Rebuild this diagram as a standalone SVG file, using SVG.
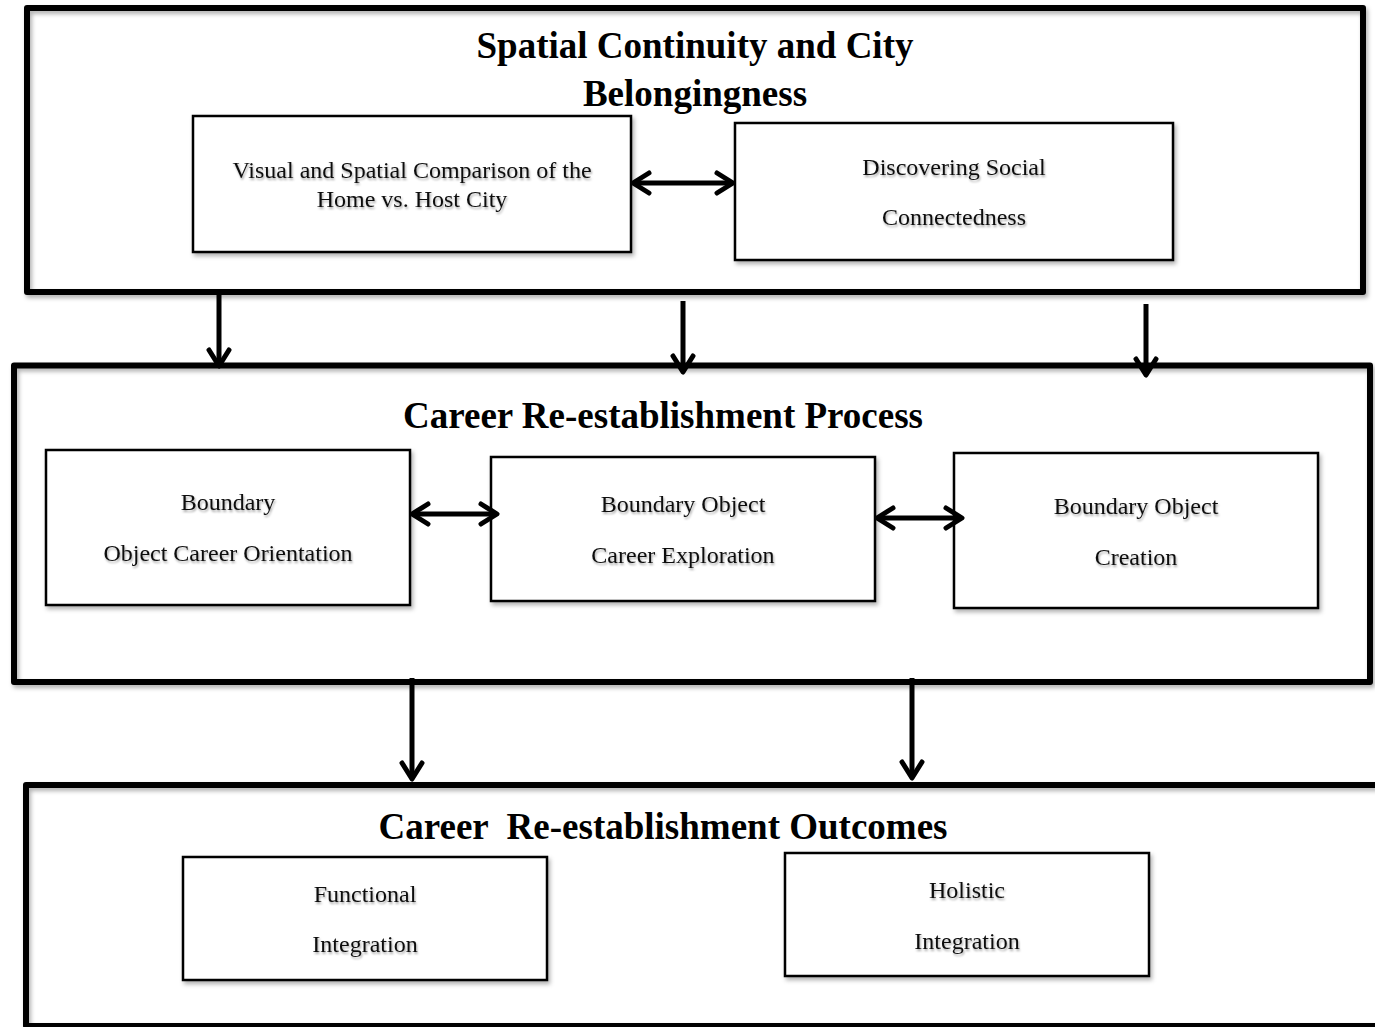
<svg xmlns="http://www.w3.org/2000/svg" width="1375" height="1027" viewBox="0 0 1375 1027">
<style>
.outer{fill:none;stroke:#000;stroke-width:6;stroke-linejoin:round}
.inner{fill:#fff;stroke:#000;stroke-width:2.5}
.title{font-family:"Liberation Serif",serif;font-weight:bold;font-size:37px;text-anchor:middle;fill:#000}
.lbl{font-family:"Liberation Serif",serif;font-size:24px;text-anchor:middle;fill:#111}
.conn{fill:none;stroke:#000;stroke-width:5}
</style>
<defs>
<filter id="sh" x="-5%" y="-5%" width="115%" height="120%">
<feDropShadow dx="2" dy="3" stdDeviation="2" flood-color="#000" flood-opacity="0.3"/>
</filter>
<filter id="tsh" x="-5%" y="-20%" width="110%" height="150%">
<feDropShadow dx="1" dy="2" stdDeviation="1.2" flood-color="#000" flood-opacity="0.35"/>
</filter>
<marker id="ah" viewBox="0 0 22 26" refX="19" refY="13" markerWidth="22" markerHeight="26" markerUnits="userSpaceOnUse" orient="auto-start-reverse">
<path d="M3,3 L19,13 L3,23" fill="none" stroke="#000" stroke-width="5" stroke-linecap="round" stroke-linejoin="round"/>
</marker>
</defs>
<rect width="1375" height="1027" fill="#fff"/>

<g id="group-spatial">
<rect class="outer" x="27" y="8" width="1336" height="284" filter="url(#sh)"/>
<text class="title" x="695" y="58">Spatial Continuity and City</text>
<text class="title" x="695" y="106">Belongingness</text>
</g>
<g id="node-visual">
<rect class="inner" x="193" y="116" width="438" height="136" filter="url(#sh)"/>
<text class="lbl" x="412" y="178" filter="url(#tsh)">Visual and Spatial Comparison of the</text>
<text class="lbl" x="412" y="207" filter="url(#tsh)">Home vs. Host City</text>
</g>
<g id="node-social">
<rect class="inner" x="735" y="123" width="438" height="137" filter="url(#sh)"/>
<text class="lbl" x="954" y="175" filter="url(#tsh)">Discovering Social</text>
<text class="lbl" x="954" y="225" filter="url(#tsh)">Connectedness</text>
</g>

<g id="group-process">
<rect class="outer" x="14" y="365.5" width="1356" height="316.5" filter="url(#sh)"/>
<text class="title" x="663" y="428">Career Re-establishment Process</text>
</g>
<g id="node-orientation">
<rect class="inner" x="46" y="450" width="364" height="155" filter="url(#sh)"/>
<text class="lbl" x="228" y="510" filter="url(#tsh)">Boundary</text>
<text class="lbl" x="228" y="561" filter="url(#tsh)">Object Career Orientation</text>
</g>
<g id="node-exploration">
<rect class="inner" x="491" y="457" width="384" height="144" filter="url(#sh)"/>
<text class="lbl" x="683" y="512" filter="url(#tsh)">Boundary Object</text>
<text class="lbl" x="683" y="563" filter="url(#tsh)">Career Exploration</text>
</g>
<g id="node-creation">
<rect class="inner" x="954" y="453" width="364" height="155" filter="url(#sh)"/>
<text class="lbl" x="1136" y="514" filter="url(#tsh)">Boundary Object</text>
<text class="lbl" x="1136" y="565" filter="url(#tsh)">Creation</text>
</g>

<g id="group-outcomes">
<rect class="outer" x="26" y="785" width="1360" height="241" filter="url(#sh)"/>
<text class="title" x="663" y="839" xml:space="preserve">Career  Re-establishment Outcomes</text>
</g>
<g id="node-functional">
<rect class="inner" x="183" y="857" width="364" height="123" filter="url(#sh)"/>
<text class="lbl" x="365" y="902" filter="url(#tsh)">Functional</text>
<text class="lbl" x="365" y="952" filter="url(#tsh)">Integration</text>
</g>
<g id="node-holistic">
<rect class="inner" x="785" y="853" width="364" height="123" filter="url(#sh)"/>
<text class="lbl" x="967" y="898" filter="url(#tsh)">Holistic</text>
<text class="lbl" x="967" y="949" filter="url(#tsh)">Integration</text>
</g>

<g id="connectors">
<line class="conn" x1="633" y1="183" x2="733" y2="183" marker-start="url(#ah)" marker-end="url(#ah)"/>
<line class="conn" x1="412" y1="514" x2="497" y2="514" marker-start="url(#ah)" marker-end="url(#ah)"/>
<line class="conn" x1="877" y1="518" x2="962" y2="518" marker-start="url(#ah)" marker-end="url(#ah)"/>
<line class="conn" x1="219" y1="292" x2="219" y2="366" marker-end="url(#ah)"/>
<line class="conn" x1="683" y1="301" x2="683" y2="372" marker-end="url(#ah)"/>
<line class="conn" x1="1146" y1="304" x2="1146" y2="375" marker-end="url(#ah)"/>
<line class="conn" x1="412" y1="678" x2="412" y2="779" marker-end="url(#ah)"/>
<line class="conn" x1="912" y1="678" x2="912" y2="778" marker-end="url(#ah)"/>
</g>
</svg>
